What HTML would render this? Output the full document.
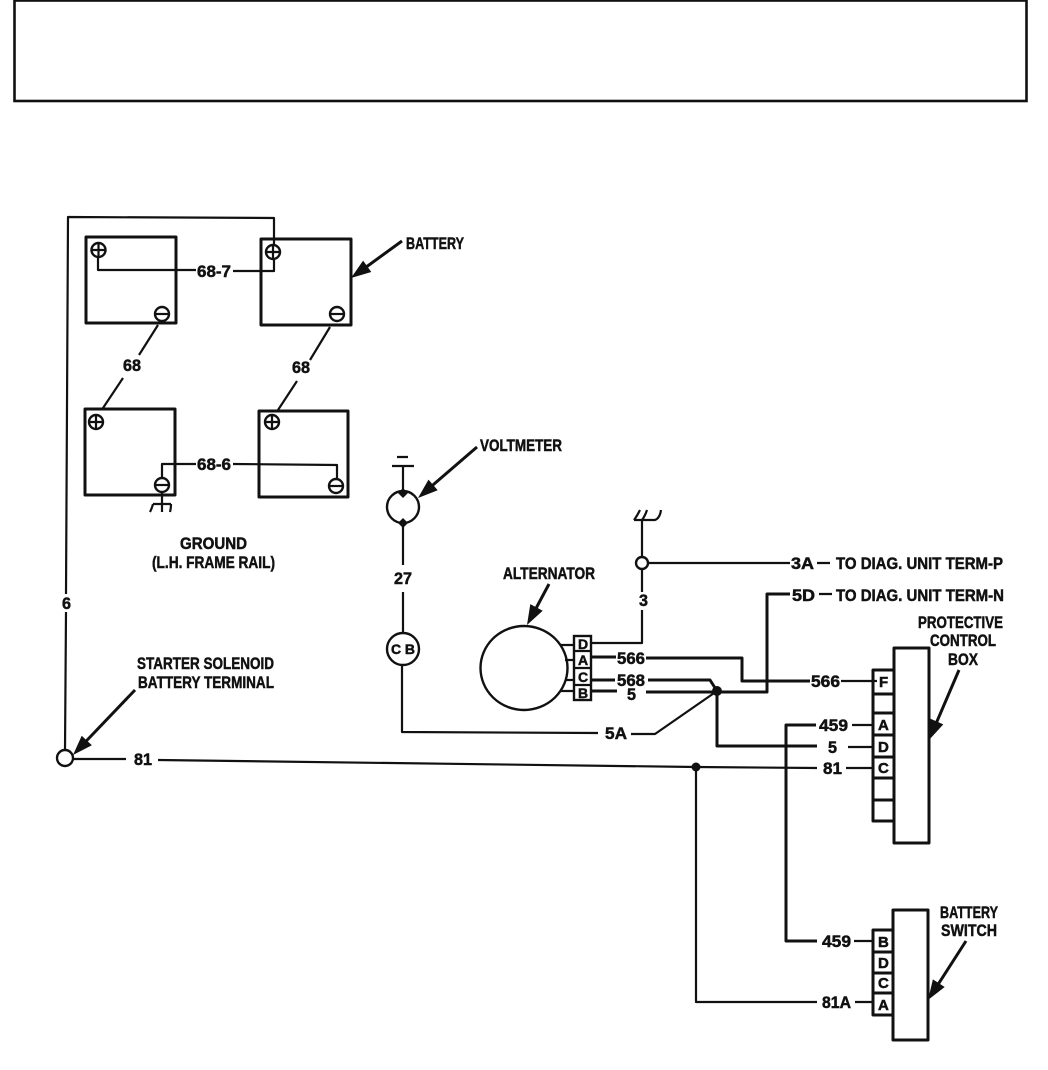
<!DOCTYPE html>
<html>
<head>
<meta charset="utf-8">
<style>
html,body{margin:0;padding:0;background:#fff;}
svg{display:block;}
text{font-family:"Liberation Sans",sans-serif;font-weight:bold;fill:#111;font-size:17px;stroke:#111;stroke-width:.5;}
.l{fill:none;stroke:#111;stroke-width:2.2;stroke-linejoin:round;stroke-linecap:butt;}
.a{fill:none;stroke:#111;stroke-width:3;}
.h{fill:none;stroke:#111;stroke-width:3;stroke-linejoin:round;}
.b{fill:#fff;stroke:#111;stroke-width:2.4;}
.t{fill:#fff;stroke:#111;stroke-width:2.4;}
.s{fill:#111;stroke:none;}
</style>
</head>
<body>
<svg width="1048" height="1070" viewBox="0 0 1048 1070" xmlns="http://www.w3.org/2000/svg">
<rect x="14.5" y="0.5" width="1012" height="100.5" fill="none" stroke="#111" stroke-width="2.6"/>

<!-- batteries -->
<rect class="h" x="86" y="237" width="90" height="86"/>
<rect class="h" x="261" y="239" width="90" height="86"/>
<rect class="h" x="85" y="409" width="90" height="86"/>
<rect class="h" x="259" y="411" width="89" height="86"/>

<!-- wire 6 -->
<path class="l" d="M65 750L66 612M66 594L68 217L274 218V246"/>
<!-- 68-7 -->
<path class="l" d="M98 256V270H196M233 271H274V258"/>
<!-- 68 -->
<path class="l" d="M158 325L139 355M123 378L103 408"/>
<path class="l" d="M330 327L310 360M297 381L278 410"/>
<!-- 68-6 -->
<path class="l" d="M162 478V464H196M233 464L337 465V478"/>
<!-- ground -->
<path class="l" d="M162 492V510M153 504H171M153 504Q152 508 150 512M162 504V512M171 504Q171 508 170 512"/>

<!-- terminals -->
<g class="t">
<circle class="t" cx="98.500" cy="250" r="7"/><path class="l" d="M92 250H105M98.500 244V257"/>
<circle class="t" cx="273" cy="252" r="7"/><path class="l" d="M267 252H280M273 246V259"/>
<circle class="t" cx="96" cy="422" r="7"/><path class="l" d="M90 422H103M96 416V429"/>
<circle class="t" cx="272" cy="422" r="7"/><path class="l" d="M266 422H279M272 416V429"/>
<circle class="t" cx="162" cy="314" r="7"/><path class="l" d="M156 314H169"/>
<circle class="t" cx="337" cy="314" r="7"/><path class="l" d="M331 314H344"/>
<circle class="t" cx="162" cy="485" r="7"/><path class="l" d="M156 485H169"/>
<circle class="t" cx="336" cy="486" r="7"/><path class="l" d="M330 486H343"/>
</g>

<!-- voltmeter & CB -->
<path class="l" d="M392 466H414M397 457H408M403 466V490"/>
<circle class="b" cx="403" cy="507" r="16"/>
<polygon class="s" points="403,488 408,493 403,498 398,493"/>
<polygon class="s" points="403,518 408,523 403,528 398,523"/>
<path class="l" d="M403 523V565M403 592V633"/>
<circle class="b" cx="403" cy="649" r="16" stroke-width="3"/>
<path class="l" d="M402 665V732L598 733M631 734H655L717 691"/>

<!-- starter terminal and 81 -->
<circle class="b" cx="65" cy="758" r="8"/>
<path class="l" d="M73 759H126M158 760L696 767L817 768M846 768H873"/>
<circle class="s" cx="696" cy="767" r="4.500"/>
<path class="l" d="M696 767V1002H817M855 1002H873"/>

<!-- alternator -->
<ellipse class="b" cx="524" cy="668" rx="43.500" ry="42"/>
<path class="l" d="M560 645H574M565 660H574M565 680H574M560 691H574"/>
<rect class="b" x="574" y="636" width="17" height="64"/>
<path class="l" d="M574 651H591M574 668H591M574 685H591"/>

<!-- ground top right -->
<path class="l" d="M642 520V557M649 563H790M642 569V592M642 610V643H591"/>
<path class="l" d="M634 520H655Q660 518 661 510M642 520Q645 516 647 510M634 520Q637 516 640 510"/>
<circle class="b" cx="642" cy="563" r="6"/>
<path class="l" d="M817 563H830M819 594H832"/>
<path class="h" d="M790 594H767V692H646M591 691H617" stroke-width="2.400"/>
<path class="h" d="M591 657H616M646 658H742V681H810" stroke-width="2.400"/>
<path class="l" d="M841 681H877"/>
<path class="h" d="M591 680H615M648 680H710L717 691V746H817" stroke-width="2.400"/>
<circle class="s" cx="717" cy="691" r="5"/>
<path class="l" d="M848 747H873"/>
<path class="h" d="M816 725H786V941H817" stroke-width="2.600"/>
<path class="l" d="M852 725H873M854 941H873"/>

<!-- protective box -->
<path class="h" d="M894 670V820M894 670V648H929V843H894V820" stroke-width="2.400"/>
<path class="h" d="M894 670H873V694M873 694V821H894M873 694H894M873 713H894M873 735H894M873 757H894M873 778H894M873 800H894" stroke-width="2.400"/>

<!-- battery switch -->
<path class="h" d="M893 1040V910H928V1040H893Z" stroke-width="2.400"/>
<path class="h" d="M893 930H873V1015H893M873 952H893M873 973H893M873 993H893" stroke-width="2.400"/>

<!-- arrows -->
<path class="a" d="M402 241L364 268.600"/><polygon class="s" points="351,278 363.100,260.600 371.300,272"/>
<path class="a" d="M477 447L430 487.500"/><polygon class="s" points="418,498 428.500,479.600 437.700,490.200"/>
<path class="a" d="M549 584L534.600 611"/><polygon class="s" points="527,625 530.300,604.100 542.700,610.700"/>
<path class="a" d="M959 670L935.300 725.300"/><polygon class="s" points="929,740 930.500,718.800 943.300,724.400"/>
<path class="a" d="M966 941L936.700 986.600"/><polygon class="s" points="928,1000 932.900,979.400 944.700,987"/>
<path class="a" d="M135 690L84 743.400"/><polygon class="s" points="73,755 81.700,735.700 91.900,745.300"/>

<!-- labels -->
<text x="197" y="277" textLength="34" lengthAdjust="spacingAndGlyphs">68-7</text>
<text x="197" y="470" textLength="34" lengthAdjust="spacingAndGlyphs">68-6</text>
<text x="123" y="371" textLength="18" lengthAdjust="spacingAndGlyphs">68</text>
<text x="292" y="373" textLength="18" lengthAdjust="spacingAndGlyphs">68</text>
<text x="406" y="249" textLength="58" lengthAdjust="spacingAndGlyphs">BATTERY</text>
<text x="480" y="451" textLength="82" lengthAdjust="spacingAndGlyphs">VOLTMETER</text>
<text x="180" y="549" textLength="67" lengthAdjust="spacingAndGlyphs">GROUND</text>
<text x="152" y="568" textLength="123" lengthAdjust="spacingAndGlyphs">(L.H. FRAME RAIL)</text>
<text x="62" y="609" textLength="9" lengthAdjust="spacingAndGlyphs">6</text>
<text x="394" y="584" textLength="18" lengthAdjust="spacingAndGlyphs">27</text>
<text x="391" y="654" textLength="24" lengthAdjust="spacing" style="font-size:14px">C B</text>
<text x="137" y="669" textLength="137" lengthAdjust="spacingAndGlyphs">STARTER SOLENOID</text>
<text x="138" y="688" textLength="136" lengthAdjust="spacingAndGlyphs">BATTERY TERMINAL</text>
<text x="134" y="765" textLength="18" lengthAdjust="spacingAndGlyphs">81</text>
<text x="503" y="579" textLength="92" lengthAdjust="spacingAndGlyphs">ALTERNATOR</text>
<text x="639" y="606" textLength="9" lengthAdjust="spacingAndGlyphs">3</text>
<text x="791" y="569" textLength="23" lengthAdjust="spacingAndGlyphs">3A</text>
<text x="836" y="569" textLength="167" lengthAdjust="spacingAndGlyphs">TO DIAG. UNIT TERM-P</text>
<text x="792" y="601" textLength="23" lengthAdjust="spacingAndGlyphs">5D</text>
<text x="836" y="601" textLength="168" lengthAdjust="spacingAndGlyphs">TO DIAG. UNIT TERM-N</text>
<text x="617" y="664" textLength="28" lengthAdjust="spacingAndGlyphs">566</text>
<text x="617" y="686" textLength="28" lengthAdjust="spacingAndGlyphs">568</text>
<text x="627" y="700" textLength="9" lengthAdjust="spacingAndGlyphs">5</text>
<text x="605" y="739" textLength="22" lengthAdjust="spacingAndGlyphs">5A</text>
<text x="811" y="687" textLength="29" lengthAdjust="spacingAndGlyphs">566</text>
<text x="819" y="731" textLength="29" lengthAdjust="spacingAndGlyphs">459</text>
<text x="828" y="753" textLength="9" lengthAdjust="spacingAndGlyphs">5</text>
<text x="823" y="774" textLength="19" lengthAdjust="spacingAndGlyphs">81</text>
<text x="822" y="947" textLength="29" lengthAdjust="spacingAndGlyphs">459</text>
<text x="822" y="1008" textLength="29" lengthAdjust="spacingAndGlyphs">81A</text>
<text x="918" y="628" textLength="85" lengthAdjust="spacingAndGlyphs">PROTECTIVE</text>
<text x="930" y="646" textLength="66" lengthAdjust="spacingAndGlyphs">CONTROL</text>
<text x="948" y="665" textLength="30" lengthAdjust="spacingAndGlyphs">BOX</text>
<text x="940" y="918" textLength="58" lengthAdjust="spacingAndGlyphs">BATTERY</text>
<text x="941" y="936" textLength="56" lengthAdjust="spacingAndGlyphs">SWITCH</text>

<!-- pin letters -->
<g>
<text x="578" y="649" style="font-size:14px">D</text>
<text x="578" y="665" style="font-size:14px">A</text>
<text x="578" y="682" style="font-size:14px">C</text>
<text x="578" y="698" style="font-size:14px">B</text>
<text x="879" y="687" style="font-size:15px">F</text>
<text x="878" y="730" style="font-size:15px">A</text>
<text x="878" y="752" style="font-size:15px">D</text>
<text x="878" y="773" style="font-size:15px">C</text>
<text x="878" y="947" style="font-size:15px">B</text>
<text x="878" y="968" style="font-size:15px">D</text>
<text x="878" y="988" style="font-size:15px">C</text>
<text x="878" y="1010" style="font-size:15px">A</text>
</g>
</svg>
</body>
</html>
